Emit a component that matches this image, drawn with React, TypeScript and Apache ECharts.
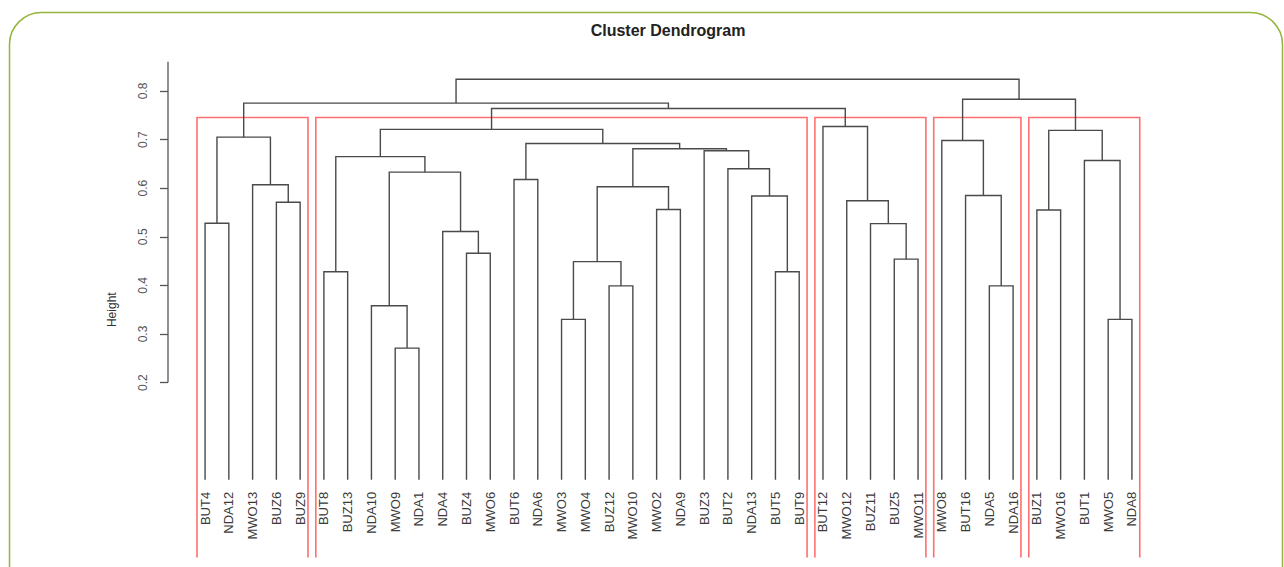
import React, { useEffect, useRef } from "react";
import * as echarts from "echarts";

// Leaf labels in dendrogram order
const leafLabels = [
  "BUT4", "NDA12", "MWO13", "BUZ6", "BUZ9",
  "BUT8", "BUZ13", "NDA10", "MWO9", "NDA1", "NDA4", "BUZ4", "MWO6", "BUT6", "NDA6",
  "MWO3", "MWO4", "BUZ12", "MWO10", "MWO2", "NDA9", "BUZ3", "BUT2", "NDA13", "BUT5", "BUT9",
  "BUT12", "MWO12", "BUZ11", "BUZ5", "MWO11",
  "MWO8", "BUT16", "NDA5", "NDA16",
  "BUZ1", "MWO16", "BUT1", "MWO5", "NDA8",
];

// hclust-style merge table: negative = leaf (1-based position), positive = merge step (1-based)
const mergeA = [
  -9, -16, -39, -8, -18, -34, -6, -25, 2, -30,
  -12, -11, -29, -1, -36, -20, -4, -28, -24, -33,
  9, -3, -14, 4, -23, -38, 7, -22, 21, 23,
  -32, 14, 15, 27, -27, 34, 32, 31, 37,
];
const mergeB = [
  -10, -17, -40, 1, -19, -35, -7, -26, 5, -31,
  -13, 11, 10, -2, -37, -21, -5, 13, 8, 6,
  16, 17, -15, 12, 19, 3, 24, 25, 28, 29,
  20, 22, 26, 30, 18, 35, 36, 33, 38,
];
const mergeHeights = [
  0.271, 0.330, 0.330, 0.358, 0.399, 0.399, 0.428, 0.428, 0.449, 0.454,
  0.466, 0.511, 0.527, 0.528, 0.555, 0.556, 0.571, 0.574, 0.584, 0.585,
  0.603, 0.607, 0.618, 0.633, 0.640, 0.657, 0.665, 0.677, 0.681, 0.692,
  0.698, 0.705, 0.719, 0.721, 0.727, 0.764, 0.775, 0.783, 0.824,
];

const yTicks = [0.2, 0.3, 0.4, 0.5, 0.6, 0.7, 0.8];
const clusterCount = 5;

const FONT = "'Liberation Sans', Arial, Helvetica, sans-serif";

function buildTree() {
  const n = mergeHeights.length;
  const pos: number[] = [];
  const lo: number[] = [];
  const hi: number[] = [];
  const xOf = (id: number) => (id < 0 ? -id : pos[id - 1]);
  const hOf = (id: number) => (id < 0 ? 0 : mergeHeights[id - 1]);
  const loOf = (id: number) => (id < 0 ? -id : lo[id - 1]);
  const hiOf = (id: number) => (id < 0 ? -id : hi[id - 1]);
  const segs: number[][] = [];
  for (let i = 0; i < n; i++) {
    const a = mergeA[i];
    const b = mergeB[i];
    pos[i] = (xOf(a) + xOf(b)) / 2;
    lo[i] = Math.min(loOf(a), loOf(b));
    hi[i] = Math.max(hiOf(a), hiOf(b));
    segs.push([xOf(a), hOf(a), xOf(b), hOf(b), mergeHeights[i]]);
  }
  // cut into k clusters (rect.hclust)
  const order = mergeHeights.map((h, i) => i).sort((p, q) => mergeHeights[q] - mergeHeights[p]);
  const top = new Set(order.slice(0, clusterCount - 1));
  const cutH = (mergeHeights[order[clusterCount - 2]] + mergeHeights[order[clusterCount - 1]]) / 2;
  const roots: number[] = [];
  top.forEach((i) => {
    [mergeA[i], mergeB[i]].forEach((c) => {
      if (c < 0 || !top.has(c - 1)) roots.push(c);
    });
  });
  const boxes = roots
    .map((c) => [loOf(c), hiOf(c)])
    .sort((p, q) => p[0] - q[0])
    .map(([a, b]) => [a - 0.34, b + 0.33, cutH]);
  return { segs, boxes };
}

export default function App() {
  const ref = useRef<HTMLDivElement>(null);
  useEffect(() => {
    if (!ref.current) return;
    const chart = echarts.init(ref.current, null, { renderer: "svg" });
    const { segs, boxes } = buildTree();
    const nLeaves = leafLabels.length;
    const xPad = (nLeaves - 1) * 0.04;
    const yMin = -0.16;
    const yMax = 0.86;
    const gridH = 495.8;
    const leafIdx = leafLabels.map((_, i) => i + 1);
    // place the label axis at height 0 (leaf level)
    const xAxisOffset = -((0 - yMin) / (yMax - yMin)) * gridH;

    chart.setOption({
      animation: false,
      backgroundColor: "#ffffff",
      textStyle: { fontFamily: FONT },
      grid: {
        left: 168,
        top: 61.8,
        width: 1001,
        height: gridH,
        containLabel: false,
        outerBoundsMode: "none",
      },
      xAxis: {
        type: "value",
        min: 1 - xPad,
        max: nLeaves + xPad,
        position: "bottom",
        offset: xAxisOffset,
        axisLine: { show: false, onZero: false },
        axisTick: { show: false },
        splitLine: { show: false },
        axisLabel: {
          customValues: leafIdx,
          formatter: (v: number) => leafLabels[Math.round(v) - 1] ?? "",
          rotate: 90,
          margin: 12,
          fontSize: 13,
          color: "#3a3a3a",
          fontFamily: FONT,
        },
      },
      yAxis: {
        type: "value",
        min: yMin,
        max: yMax,
        axisLine: { show: false, onZero: false },
        splitLine: { show: false },
        axisTick: {
          show: true,
          customValues: yTicks,
          length: 8,
          lineStyle: { color: "#555", width: 1.3 },
        },
        axisLabel: {
          customValues: yTicks,
          formatter: (v: number) => v.toFixed(1),
          rotate: 90,
          margin: 19,
          fontSize: 12,
          color: "#555",
          fontFamily: FONT,
        },
        name: "Height",
        nameLocation: "middle",
        nameGap: 50,
        nameMoveOverlap: false,
        nameTextStyle: { fontSize: 12, color: "#333", fontFamily: FONT },
      },
      graphic: [
        {
          type: "rect",
          shape: { x: 9.5, y: 12.5, width: 1273, height: 620, r: 32 },
          style: { fill: "none", stroke: "#93b53c", lineWidth: 1.5 },
          silent: true,
        },
        {
          type: "text",
          x: 668,
          y: 30,
          style: {
            text: "Cluster Dendrogram",
            fontSize: 16,
            fontWeight: "bold",
            fontFamily: FONT,
            fill: "#222",
            textAlign: "center",
            textVerticalAlign: "middle",
          },
        },
      ],
      series: [
        {
          type: "custom",
          name: "axis",
          silent: true,
          data: [[1 - xPad, yTicks[0], yMax]],
          renderItem: (params: any, api: any) => {
            const p1 = api.coord([api.value(0), api.value(1)]);
            const p2 = api.coord([api.value(0), api.value(2)]);
            return {
              type: "line",
              shape: { x1: p1[0], y1: p1[1], x2: p2[0], y2: p2[1] },
              style: { stroke: "#555", lineWidth: 1.3 },
            };
          },
        },
        {
          type: "custom",
          name: "boxes",
          silent: true,
          data: boxes.map(([l, r, t]) => [l, yMin, r, t]),
          renderItem: (params: any, api: any) => {
            const a = api.coord([api.value(0), api.value(1)]);
            const b = api.coord([api.value(0), api.value(3)]);
            const c = api.coord([api.value(2), api.value(3)]);
            const d = api.coord([api.value(2), api.value(1)]);
            return {
              type: "polyline",
              shape: { points: [a, b, c, d] },
              style: { stroke: "#ff6f6f", lineWidth: 1.6, fill: "none" },
            };
          },
        },
        {
          type: "custom",
          name: "dendrogram",
          silent: true,
          data: segs,
          renderItem: (params: any, api: any) => {
            const p1 = api.coord([api.value(0), api.value(1)]);
            const p2 = api.coord([api.value(0), api.value(4)]);
            const p3 = api.coord([api.value(2), api.value(4)]);
            const p4 = api.coord([api.value(2), api.value(3)]);
            return {
              type: "polyline",
              shape: { points: [p1, p2, p3, p4] },
              style: { stroke: "#4a4a4a", lineWidth: 1.4, fill: "none" },
            };
          },
        },
      ],
    });
    return () => chart.dispose();
  }, []);
  return (
    <div
      ref={ref}
      style={{ position: "absolute", left: 0, top: 0, width: 1284, height: 567, background: "#fff" }}
    />
  );
}
